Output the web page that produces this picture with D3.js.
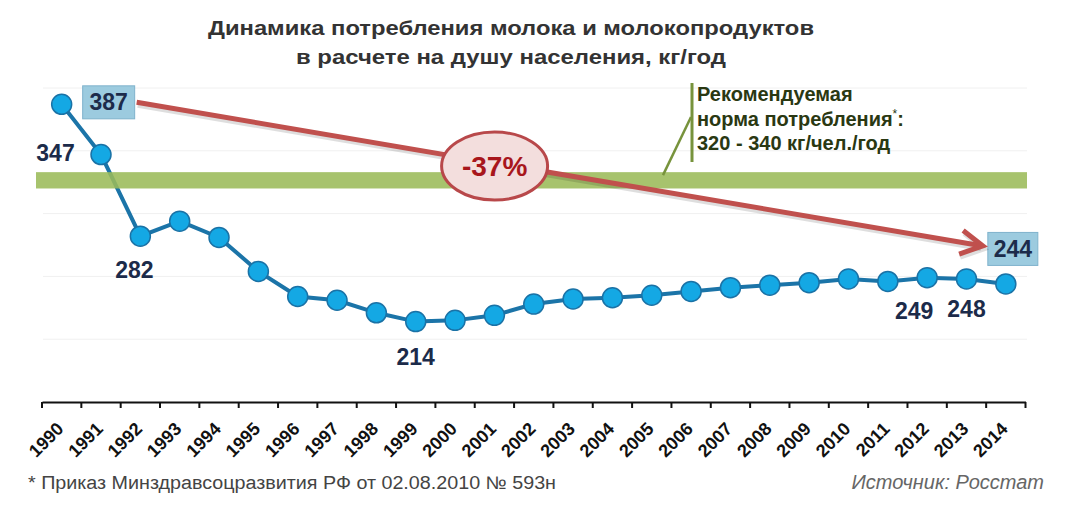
<!DOCTYPE html>
<html>
<head>
<meta charset="utf-8">
<script src="https://cdn.jsdelivr.net/npm/d3@7"></script>
<style>
body { margin: 0; background: #fff; }
svg { display: block; font-family: "Liberation Sans", Arial, sans-serif; }
</style>
</head>
<body>
<svg width="1080" height="512"></svg>
<script>
var years = [1990, 1991, 1992, 1993, 1994, 1995, 1996, 1997, 1998, 1999, 2000, 2001, 2002,
    2003, 2004, 2005, 2006, 2007, 2008, 2009, 2010, 2011, 2012, 2013, 2014];
var milkKg = [387, 347, 282, 294, 281, 254, 234, 231, 221, 214, 215, 219, 228,
    232, 233, 235, 238, 241, 243, 245, 248, 246, 249, 248, 244];
var yDomainKg = [150, 400];
var gridKg = [200, 250, 300, 350, 400];
// band as it is drawn in the picture
var normBandKg = [320, 333];
var plainLabelYears = [1991, 1992, 1999, 2012, 2013];
var boxedLabelYears = [1990, 2014];
var titleLines = ["Динамика потребления молока и молокопродуктов", "в расчете на душу населения, кг/год"];
var normLines = ["Рекомендуемая", "норма потребления", "320 - 340 кг/чел./год"];
var changeText = "-37%";
var footnoteText = "* Приказ Минздравсоцразвития РФ от 02.08.2010 № 593н";
var sourceText = "Источник: Росстат";

var svg = d3.select("svg");
var x = d3.scaleBand().domain(years).range([42, 1025.5]);
var y = d3.scaleLinear().domain(yDomainKg).range([402, 88]);
var cx = function (yr) { return x(yr) + x.bandwidth() / 2; };
var valueOf = function (yr) { return milkKg[years.indexOf(yr)]; };

// title
svg.append("g").selectAll("text")
    .data(titleLines)
    .join("text")
    .attr("x", 511)
    .attr("y", function (d, i) { return 35 + i * 29; })
    .attr("text-anchor", "middle")
    .attr("font-size", 21)
    .attr("font-weight", "bold")
    .attr("fill", "#333")
    .attr("textLength", function (d, i) { return i === 0 ? 606 : 430; })
    .attr("lengthAdjust", "spacingAndGlyphs")
    .text(function (d) { return d; });

// faint grid
svg.append("g").selectAll("line")
    .data(gridKg)
    .join("line")
    .attr("x1", 43).attr("x2", 1027)
    .attr("y1", function (d) { return y(d); })
    .attr("y2", function (d) { return y(d); })
    .attr("stroke", "#f0f0f0")
    .attr("stroke-width", 1);

// x axis
var axisG = svg.append("g")
    .attr("transform", "translate(0," + y(yDomainKg[0]) + ")")
    .call(d3.axisBottom(x).tickSizeInner(0).tickSizeOuter(0));
axisG.attr("font-size", 18).attr("font-family", "Liberation Sans, Arial, sans-serif");
axisG.select(".domain").attr("stroke", "#111").attr("stroke-width", 2);
axisG.selectAll(".tick text")
    .attr("x", 0).attr("y", 0).attr("dy", null)
    .attr("transform", "translate(3,28) rotate(-45)")
    .attr("text-anchor", "end")
    .style("font-size", "18px")
    .attr("font-weight", "bold")
    .attr("fill", "#111");
var bounds = years.map(function (yr) { return x(yr); }).concat([x.range()[1]]);
axisG.selectAll(".bound")
    .data(bounds)
    .join("line")
    .attr("class", "bound")
    .attr("x1", function (d) { return d; })
    .attr("x2", function (d) { return d; })
    .attr("y1", 0).attr("y2", 6)
    .attr("stroke", "#111")
    .attr("stroke-width", 2);

// series line and markers
var line = d3.line()
    .x(function (d, i) { return cx(years[i]); })
    .y(function (d) { return y(d); });
svg.append("path")
    .datum(milkKg)
    .attr("d", line)
    .attr("fill", "none")
    .attr("stroke", "#1b74a8")
    .attr("stroke-width", 4);

svg.append("g").selectAll("circle")
    .data(milkKg)
    .join("circle")
    .attr("cx", function (d, i) { return cx(years[i]); })
    .attr("cy", function (d) { return y(d); })
    .attr("r", 10)
    .attr("fill", "#14a8e4")
    .attr("stroke", "#1a72a6")
    .attr("stroke-width", 1.5);

// recommended norm band
svg.append("rect")
    .attr("x", 36)
    .attr("width", 991)
    .attr("y", y(normBandKg[1]))
    .attr("height", y(normBandKg[0]) - y(normBandKg[1]))
    .attr("fill", "#9bbb59")
    .attr("opacity", 0.88);

// callout for the band
var callout = svg.append("g");
callout.append("line")
    .attr("x1", 692).attr("x2", 692).attr("y1", 83).attr("y2", 162)
    .attr("stroke", "#77933c").attr("stroke-width", 3);
callout.append("line")
    .attr("x1", 691).attr("y1", 117).attr("x2", 663).attr("y2", y(normBandKg[1]) + 3)
    .attr("stroke", "#77933c").attr("stroke-width", 2.5);
var normText = callout.append("text")
    .attr("font-size", 20)
    .attr("font-weight", "bold")
    .attr("fill", "#2a3812");
normLines.forEach(function (s, i) {
    normText.append("tspan").attr("x", 697).attr("y", 101 + i * 24.5).text(s);
    if (i === 1) {
        normText.append("tspan").attr("font-size", 12).attr("font-weight", "normal").attr("dy", -8).text("*");
        normText.append("tspan").attr("dy", 8).text(":");
    }
});

// boxed labels (start and end values)
var boxOffset = { 1990: [47, -2, 52], 2014: [7, -35, 50] };
var boxes = svg.append("g").selectAll("g")
    .data(boxedLabelYears)
    .join("g")
    .attr("transform", function (yr) {
        return "translate(" + (cx(yr) + boxOffset[yr][0]) + "," + (y(valueOf(yr)) + boxOffset[yr][1]) + ")";
    });
boxes.append("rect")
    .attr("x", function (yr) { return -boxOffset[yr][2] / 2; })
    .attr("y", -16.5)
    .attr("width", function (yr) { return boxOffset[yr][2]; })
    .attr("height", 33)
    .attr("fill", "#9ccbdf")
    .attr("stroke", "#7fb3cc")
    .attr("stroke-width", 1);
boxes.append("text")
    .attr("text-anchor", "middle")
    .attr("y", 8)
    .attr("font-size", 23)
    .attr("font-weight", "bold")
    .attr("fill", "#1c2b4a")
    .text(function (yr) { return valueOf(yr); });

// arrow from first box to last box
var bx0 = cx(1990) + boxOffset[1990][0] + boxOffset[1990][2] / 2 + 2;
var by0 = y(valueOf(1990)) + boxOffset[1990][1];
var bx1 = cx(2014) + boxOffset[2014][0] - boxOffset[2014][2] / 2 - 5;
var by1 = y(valueOf(2014)) + boxOffset[2014][1] - 3;
var ang = Math.atan2(by1 - by0, bx1 - bx0);
var headLen = 22, headHalf = 12;
var hx = bx1 - headLen * Math.cos(ang), hy = by1 - headLen * Math.sin(ang);
var nx = -Math.sin(ang), ny = Math.cos(ang);
var headPts = [[bx1, by1], [hx + nx * headHalf, hy + ny * headHalf], [hx - nx * headHalf, hy - ny * headHalf]];
var arrowG = svg.append("g");
[["rgba(0,0,0,0.13)", 1, 3], ["#c0504d", 0, 0]].forEach(function (s) {
    var g = arrowG.append("g").attr("transform", "translate(" + s[1] + "," + s[2] + ")");
    g.append("line")
        .attr("x1", bx0).attr("y1", by0).attr("x2", bx1 - 3 * Math.cos(ang)).attr("y2", by1 - 3 * Math.sin(ang))
        .attr("stroke", s[0]).attr("stroke-width", 5);
    g.append("path")
        .attr("d", d3.line()([headPts[1], headPts[0], headPts[2]]))
        .attr("fill", "none")
        .attr("stroke", s[0])
        .attr("stroke-width", 5)
        .attr("stroke-linejoin", "miter");
});

// change ellipse on the arrow
var et = 0.423;
var ex = bx0 + (bx1 - bx0) * et, ey = by0 + (by1 - by0) * et + 3;
svg.append("ellipse")
    .attr("cx", ex).attr("cy", ey)
    .attr("rx", 53).attr("ry", 34)
    .attr("fill", "#f3dedd")
    .attr("stroke", "#b8484a")
    .attr("stroke-width", 3);
svg.append("text")
    .attr("x", ex).attr("y", ey + 10)
    .attr("text-anchor", "middle")
    .attr("font-size", 28)
    .attr("font-weight", "bold")
    .attr("fill", "#a8161c")
    .text(changeText);

// plain value labels
var labelOffset = { 1991: [-45.5, 6], 1992: [-6, 42], 1999: [0, 43], 2012: [-13, 41], 2013: [0, 38] };
svg.append("g").selectAll("text")
    .data(plainLabelYears)
    .join("text")
    .attr("x", function (yr) { return cx(yr) + labelOffset[yr][0]; })
    .attr("y", function (yr) { return y(valueOf(yr)) + labelOffset[yr][1]; })
    .attr("text-anchor", "middle")
    .attr("font-size", 23)
    .attr("font-weight", "bold")
    .attr("fill", "#1c2b4a")
    .text(function (yr) { return valueOf(yr); });

// footer
svg.append("text")
    .attr("x", 28).attr("y", 489)
    .attr("font-size", 18)
    .attr("fill", "#444")
    .attr("textLength", 528)
    .attr("lengthAdjust", "spacingAndGlyphs")
    .text(footnoteText);
svg.append("text")
    .attr("x", 1044).attr("y", 489)
    .attr("text-anchor", "end")
    .attr("font-size", 20)
    .attr("font-style", "italic")
    .attr("fill", "#666")
    .text(sourceText);
</script>
</body>
</html>
